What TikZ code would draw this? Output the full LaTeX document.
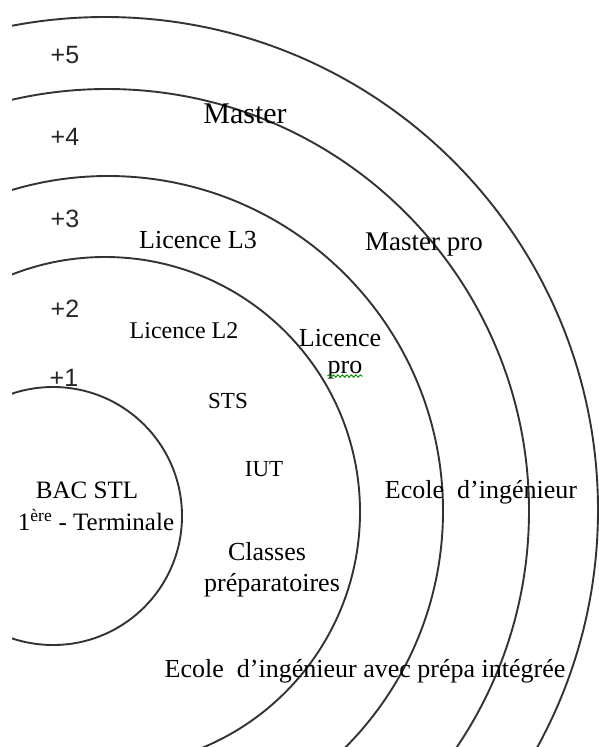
\documentclass[tikz,border=0pt]{standalone}
\usepackage{fontspec}
\setmainfont{Liberation Serif}
\newfontfamily\numfont{Liberation Sans}
\usetikzlibrary{decorations.pathmorphing}
\tikzset{
  ring/.style={draw=black!80, line width=1.9pt},
  lbl/.style={inner sep=0pt, font=\fontsize{26pt}{30pt}\selectfont, text=black},
  yr/.style={inner sep=0pt, font=\numfont\fontsize{25pt}{29pt}\selectfont, text=black!85},
  squiggle/.style={draw=green!55!black, line width=0.9pt, decorate, decoration={snake, amplitude=1.2pt, segment length=4.5pt}}
}
\begin{document}
\begin{tikzpicture}[x=1pt,y=-1pt]
\useasboundingbox (0,0) rectangle (599,747);
\fill[white] (0,0) rectangle (599,747);
\begin{scope}
\clip (12,0) rectangle (599,747);
\draw[ring] (53,516) circle[radius=129pt];
\draw[ring] (105,512) circle[radius=255pt];
\draw[ring] (108,511) circle[radius=335pt];
\draw[ring] (107,511) circle[radius=422pt];
\draw[ring] (105,510) circle[radius=493pt];
\end{scope}
% year labels
\node[yr] (y5) at (65,55) {+5};
\node[yr] (y4) at (65,137) {+4};
\node[yr] (y3) at (65,219) {+3};
\node[yr] (y2) at (65,309) {+2};
\node[yr] (y1) at (64,378) {+1};
% texts
\node[lbl, font=\fontsize{30pt}{34pt}\selectfont] (master) at (245,114) {Master};
\node[lbl] (l3) at (198,240) {Licence L3};
\node[lbl, font=\fontsize{27pt}{31pt}\selectfont] (mpro) at (424,245) {Master pro};
\node[lbl, font=\fontsize{24pt}{28pt}\selectfont] (l2) at (184,331) {Licence L2};
\node[lbl] (lp1) at (340,338) {Licence};
\node[lbl] (lp2) at (345,370) {pro};
\draw[squiggle] ([yshift=3pt]lp2.south west) -- ([yshift=3pt]lp2.south east);
\node[lbl, font=\fontsize{23pt}{27pt}\selectfont] (sts) at (228,401) {STS};
\node[lbl, font=\fontsize{23pt}{27pt}\selectfont] (iut) at (264,469) {IUT};
\node[lbl, font=\fontsize{25pt}{29pt}\selectfont] (bac) at (87,490) {BAC STL};
\node[lbl, font=\fontsize{25pt}{29pt}\selectfont] (term) at (96,520) {1\textsuperscript{ère} - Terminale};
\node[lbl] (cl1) at (267,552) {Classes};
\node[lbl] (cl2) at (272,585) {préparatoires};
\node[lbl] (ei) at (481,492) {Ecole\ \ d’ingénieur};
\node[lbl] (eip) at (365,671) {Ecole\ \ d’ingénieur avec prépa intégrée};
\end{tikzpicture}
\end{document}
